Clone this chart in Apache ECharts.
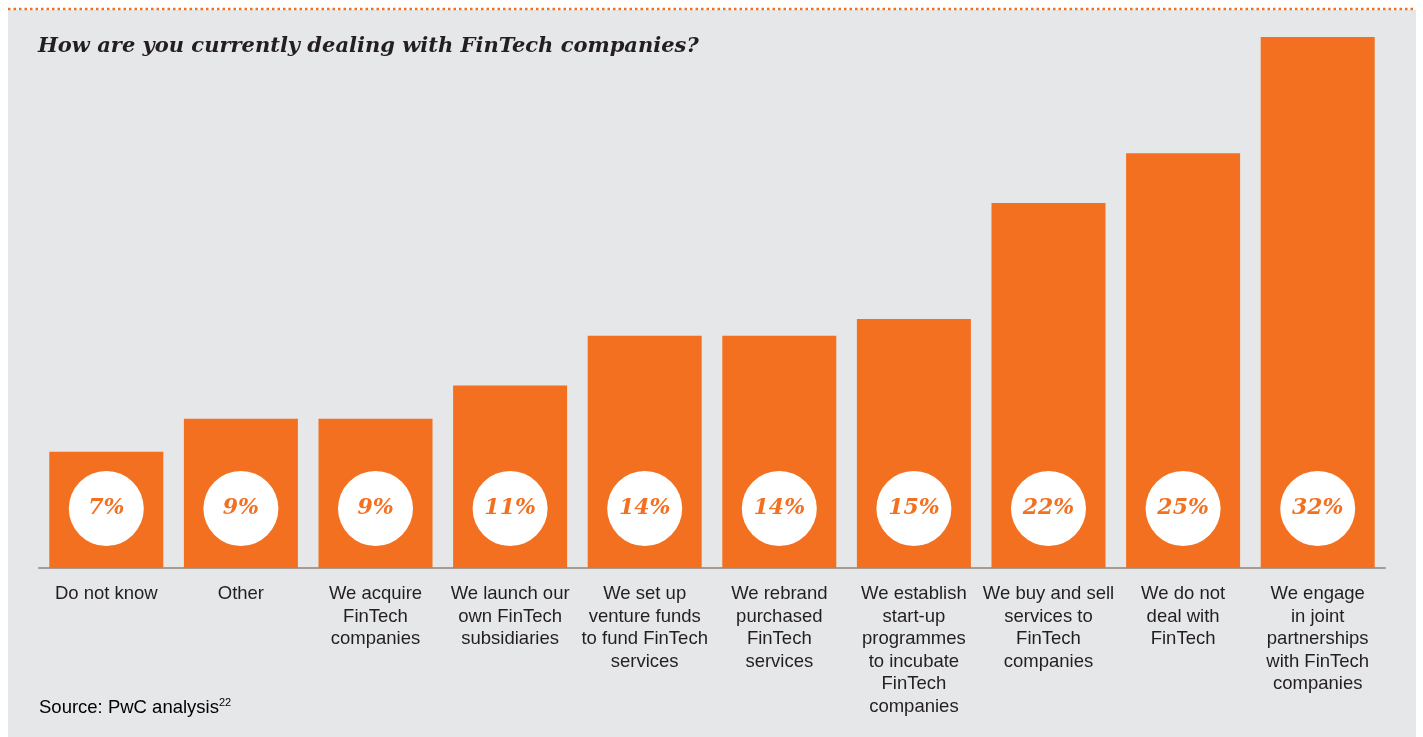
<!DOCTYPE html>
<html>
<head>
<meta charset="utf-8">
<style>
html,body{margin:0;padding:0;background:#ffffff;}
#chart{width:1423px;height:737px;}
</style>
<script src="https://cdn.jsdelivr.net/npm/echarts@6/dist/echarts.min.js"></script>
</head>
<body>
<div id="chart"></div>
<script>
var categories = [
  "Do not know",
  "Other",
  "We acquire\nFinTech\ncompanies",
  "We launch our\nown FinTech\nsubsidiaries",
  "We set up\nventure funds\nto fund FinTech\nservices",
  "We rebrand\npurchased\nFinTech\nservices",
  "We establish\nstart-up\nprogrammes\nto incubate\nFinTech\ncompanies",
  "We buy and sell\nservices to\nFinTech\ncompanies",
  "We do not\ndeal with\nFinTech",
  "We engage\nin joint\npartnerships\nwith FinTech\ncompanies"
];
var values = [7, 9, 9, 11, 14, 14, 15, 22, 25, 32];
var titleText = "How are you currently dealing with FinTech companies?";
var sourceText = "Source: PwC analysis";
var sourceNote = "22";

var ORANGE = "#f37021";
var chart = echarts.init(document.getElementById("chart"));
chart.setOption({
  backgroundColor: "#ffffff",
  animation: false,
  graphic: [
    { type: "rect", z: -10, shape: { x: 8, y: 10, width: 1408, height: 727 }, style: { fill: "#e6e7e8" } },
    { type: "line", z: -5, shape: { x1: 8, y1: 9, x2: 1416, y2: 9 }, style: { stroke: ORANGE, lineWidth: 2.5, lineDash: [2.5, 3] } },
    { type: "text", left: 38, top: 36, style: { text: titleText, font: "italic bold 21px 'DejaVu Serif'", fill: "#231f20" } },
    { type: "text", left: 39, top: 697, style: {
        text: "{a|" + sourceText + "}{s|" + sourceNote + "}",
        rich: {
          a: { fontFamily: "Liberation Sans", fontSize: 18.5, color: "#231f20", verticalAlign: "bottom" },
          s: { fontFamily: "Liberation Sans", fontSize: 11, color: "#231f20", verticalAlign: "top", padding: [0, 0, 9, 0] }
        } } }
  ],
  grid: { left: 39, right: 38, top: 37, bottom: 169 },
  xAxis: {
    type: "category",
    data: categories,
    axisLine: { lineStyle: { color: "#a59d95", width: 2 } },
    axisTick: { show: false },
    axisLabel: { interval: 0, color: "#231f20", fontFamily: "Liberation Sans", fontSize: 18.5, lineHeight: 22.5, margin: 15 }
  },
  yAxis: { type: "value", min: 0, max: 32, show: false, splitLine: { show: false } },
  series: [{
    type: "bar",
    data: values,
    barWidth: 114,
    itemStyle: { color: ORANGE },
    label: {
      show: true,
      position: "insideBottom",
      distance: 22,
      formatter: "{c}%",
      backgroundColor: "#ffffff",
      width: 75,
      height: 75,
      lineHeight: 75,
      borderRadius: 37.5,
      align: "center",
      color: ORANGE,
      fontFamily: "DejaVu Serif",
      fontStyle: "italic",
      fontWeight: "bold",
      fontSize: 22
    }
  }]
});
</script>
</body>
</html>
